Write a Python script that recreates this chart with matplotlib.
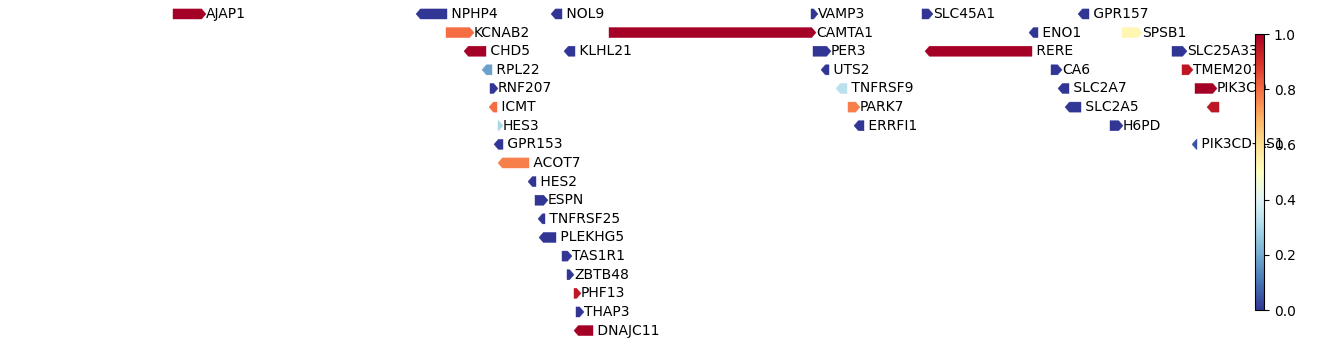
import numpy as np
import matplotlib
matplotlib.use("Agg")
import matplotlib.pyplot as plt
from matplotlib.patches import Polygon
from matplotlib.colors import Normalize
from matplotlib.cm import ScalarMappable

# gene track data (positions in kb)
names = ["AJAP1", "NPHP4", "NOL9", "VAMP3", "SLC45A1", "GPR157",
         "KCNAB2", "CAMTA1", "ENO1", "SPSB1",
         "CHD5", "KLHL21", "PER3", "RERE", "SLC25A33",
         "RPL22", "UTS2", "CA6", "TMEM201",
         "RNF207", "TNFRSF9", "SLC2A7", "PIK3CD",
         "ICMT", "PARK7", "SLC2A5", "",
         "HES3", "ERRFI1", "H6PD",
         "GPR153", "PIK3CD-AS1",
         "ACOT7", "HES2", "ESPN", "TNFRSF25", "PLEKHG5",
         "TAS1R1", "ZBTB48", "PHF13", "THAP3", "DNAJC11"]
starts = [4715, 5930, 6605, 7905, 8460, 9240,
          6080, 6895, 8995, 9460,
          6170, 6670, 7915, 8475, 9710,
          6260, 7955, 9105, 9760,
          6300, 8030, 9140, 9825,
          6295, 8090, 9175, 9885,
          6340, 8120, 9400,
          6320, 9810,
          6340, 6490, 6525, 6540, 6545,
          6660, 6685, 6720, 6730, 6720]
ends = [4880, 6085, 6660, 7940, 8515, 9295,
        6220, 7930, 9040, 9560,
        6280, 6725, 8005, 9010, 9785,
        6310, 7995, 9160, 9815,
        6340, 8085, 9195, 9935,
        6335, 8150, 9255, 9945,
        6365, 8170, 9465,
        6365, 9835,
        6495, 6530, 6590, 6575, 6630,
        6710, 6720, 6755, 6770, 6815]
strands = ["+", "-", "-", "+", "+", "-",
           "+", "+", "-", "+",
           "-", "-", "+", "-", "+",
           "-", "-", "+", "+",
           "+", "-", "-", "+",
           "-", "+", "-", "-",
           "+", "-", "+",
           "-", "-",
           "-", "-", "+", "-", "-",
           "+", "+", "+", "+", "-"]
rows = [0, 0, 0, 0, 0, 0,
        1, 1, 1, 1,
        2, 2, 2, 2, 2,
        3, 3, 3, 3,
        4, 4, 4, 4,
        5, 5, 5, 5,
        6, 6, 6,
        7, 7,
        8, 9, 10, 11, 12,
        13, 14, 15, 16, 17]
scores = [1.0, 0.0, 0.0, 0.0, 0.0, 0.0,
          0.8, 1.0, 0.0, 0.53,
          1.0, 0.0, 0.0, 1.0, 0.0,
          0.18, 0.0, 0.0, 0.95,
          0.0, 0.33, 0.0, 1.0,
          0.8, 0.77, 0.0, 0.95,
          0.3, 0.0, 0.0,
          0.0, 0.05,
          0.77, 0.0, 0.0, 0.0, 0.0,
          0.0, 0.0, 0.95, 0.0, 1.0]

cmap = plt.get_cmap("RdYlBu_r")
norm = Normalize(0, 1)

fig = plt.figure(figsize=(13.38, 3.44), dpi=100)
ax = fig.add_axes([0, 0, 1, 1])
ax.set_xlim(3850, 10540)
ax.set_ylim(17.72, -0.75)
ax.axis("off")

h = 0.27      # half height of arrow (rows)
head = 22     # arrow head length (kb)
for name, s, e, st, r, sc in zip(names, starts, ends, strands, rows, scores):
    hl = min(head, e - s)
    if st == "+":
        pts = [(s, r - h), (e - hl, r - h), (e, r), (e - hl, r + h), (s, r + h)]
        label = name
    else:
        pts = [(e, r - h), (s + hl, r - h), (s, r), (s + hl, r + h), (e, r + h)]
        label = " " + name if name else ""
    ax.add_patch(Polygon(pts, closed=True, facecolor=cmap(norm(sc)),
                         edgecolor=cmap(norm(sc)), linewidth=0.3))
    if label:
        ax.text(e, r, label, ha="left", va="center", fontsize=10)

cax = fig.add_axes([1255 / 1338, 34 / 344, 9 / 1338, 276 / 344])
cb = fig.colorbar(ScalarMappable(norm=norm, cmap=cmap), cax=cax)
cb.set_ticks([0.0, 0.2, 0.4, 0.6, 0.8, 1.0])

fig.savefig("out.png", dpi=100)
